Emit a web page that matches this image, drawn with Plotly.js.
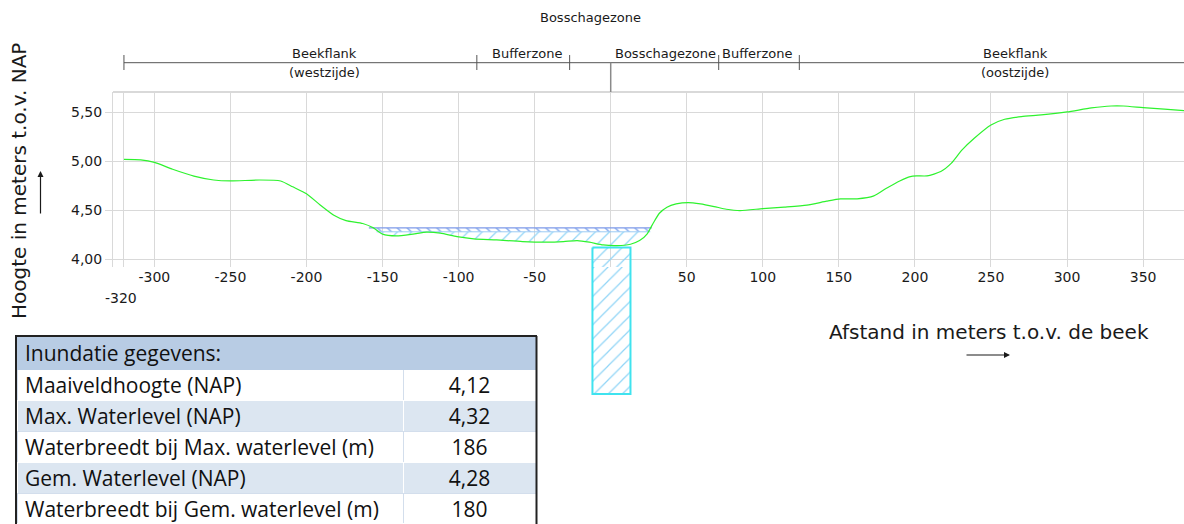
<!DOCTYPE html>
<html>
<head>
<meta charset="utf-8">
<script src="https://cdn.plot.ly/plotly-3.0.1.min.js"></script>
<style>
  html, body { margin: 0; padding: 0; background: #ffffff; }
  #chart { width: 1184px; height: 524px; }
</style>
</head>
<body>
<div id="chart"></div>
<script>
// Dwarsprofiel van het beekdal: maaiveldhoogte (m NAP) tegen afstand tot de beek (m)
const groundX = [-320, -309, -300, -288, -274, -261, -250, -231, -217, -209, -200, -191, -182, -174, -163, -156,
  -150, -141, -130, -121, -112, -101, -90, -75, -58, -42, -31, -22, -14, -5, 4, 13, 19, 24, 28, 32, 37, 43, 51,
  59, 68, 76, 85, 100, 114, 129, 142, 151, 162, 173, 181, 190, 197, 201, 208, 217, 224, 231, 239, 250, 259, 270,
  283, 300, 316, 329, 337, 350, 364, 377];
const groundY = [5.02, 5.015, 4.99, 4.92, 4.85, 4.81, 4.80, 4.81, 4.80, 4.74, 4.67, 4.555, 4.45, 4.395, 4.365, 4.32,
  4.256, 4.238, 4.256, 4.276, 4.266, 4.231, 4.208, 4.197, 4.18, 4.174, 4.18, 4.19, 4.174, 4.146, 4.139, 4.153, 4.19,
  4.26, 4.37, 4.47, 4.532, 4.565, 4.579, 4.565, 4.538, 4.511, 4.497, 4.517, 4.532, 4.552, 4.593, 4.617, 4.617,
  4.647, 4.722, 4.80, 4.845, 4.852, 4.852, 4.896, 4.982, 5.118, 5.237, 5.373, 5.431, 5.458, 5.475, 5.506, 5.547,
  5.567, 5.567, 5.55, 5.534, 5.519];

// Waterstanden (m NAP) en de breedte van het waterlichaam (m)
const maaiveld = 4.12;
const maxLevel = 4.32;
const gemLevel = 4.28;
const maxExtent = [-159, 27];   // waterbreedte 186 m
const gemExtent = [-154, 26];   // waterbreedte 180 m

// Peilbuis onder de beek
const pipeX = [-12, 13];
const pipeBottom = 2.62;

// Zonering boven het profiel
const zoneBounds = [-320, -88, -27, 71, 124];
const zoneEnd = 377;
const streamAxis = 0;
const zoneNames = ['Beekflank', 'Bufferzone', 'Bosschagezone', 'Bufferzone', 'Beekflank'];
const zoneLabelX = [-188, -55, 36, 96, 266];
const zoneSubNames = ['(westzijde)', '(oostzijde)'];
const zoneSubX = [-188, 266];
const topZoneName = 'Bosschagezone';
const topZoneX = -13;

// As-indeling
const xTicks = [-320, -300, -250, -200, -150, -100, -50, 0, 50, 100, 150, 200, 250, 300, 350];
const xTickText = ['', '-300', '-250', '-200', '-150', '-100', '-50', '', '50', '100', '150', '200', '250', '300', '350'];
const yTicks = [4.0, 4.5, 5.0, 5.5];
const xRange = [-327.2, 376.9];
const yRange = [3.92, 5.71];

// Tabel met inundatiegegevens
const tableHeader = 'Inundatie gegevens:';
const tableLabels = ['Maaiveldhoogte (NAP)', 'Max. Waterlevel (NAP)', 'Waterbreedt bij Max. waterlevel (m)',
  'Gem. Waterlevel (NAP)', 'Waterbreedt bij Gem. waterlevel (m)'];
const tableValues = ['4,12', '4,32', '186', '4,28', '180'];

const W = 1184, H = 524;
const px = v => v / W;
const py = v => 1 - v / H;

const font = 'DejaVu Sans, sans-serif';
const ink = '#1a1a1a';
const grid = '#d9d9d9';

// plot area in pixels
const plotLeft = 113, plotTop = 92, plotBottom = 267, pipeAreaBottom = 400;
const yDomain = [py(plotBottom), py(plotTop)];
const y2Domain = [py(pipeAreaBottom), py(plotBottom)];
const unitsPerPx = (yRange[1] - yRange[0]) / (plotBottom - plotTop);
const y2Range = [yRange[0] - (pipeAreaBottom - plotBottom) * unitsPerPx, yRange[0]];

const inRange = (x, r) => x >= r[0] && x <= r[1];
const gemGroundX = groundX.filter(x => inRange(x, gemExtent));
const gemGroundY = groundY.filter((_, i) => inRange(groundX[i], gemExtent));

const pipePolyX = [pipeX[0], pipeX[1], pipeX[1], pipeX[0], pipeX[0]];
const pipePolyY = [maaiveld, maaiveld, pipeBottom, pipeBottom, maaiveld];

const hatch = { shape: '/', fgcolor: '#8fd4f6', bgcolor: 'rgba(0,0,0,0)', size: 10, solidity: 0.12 };
const pipeLine = { color: '#3fe3ef', width: 2 };

const traces = [
  // water below the mean level
  { x: gemExtent, y: [gemLevel, gemLevel], mode: 'lines', line: { width: 0 }, hoverinfo: 'skip' },
  { x: gemGroundX, y: gemGroundY, mode: 'lines', line: { width: 0, shape: 'spline' }, fill: 'tonexty',
    fillcolor: 'rgba(0,0,0,0)', fillpattern: hatch, hoverinfo: 'skip' },
  // peilbuis
  { x: pipePolyX, y: pipePolyY, mode: 'lines', line: pipeLine, fill: 'toself', fillcolor: 'rgba(0,0,0,0)',
    fillpattern: hatch, hoverinfo: 'skip' },
  { x: pipePolyX, y: pipePolyY, xaxis: 'x2', yaxis: 'y2', mode: 'lines', line: pipeLine, fill: 'toself',
    fillcolor: 'rgba(0,0,0,0)', fillpattern: hatch, hoverinfo: 'skip' },
  // band between mean and maximum water level
  { x: gemExtent, y: [gemLevel, gemLevel], mode: 'lines', line: { color: '#9ccbf4', width: 1 }, hoverinfo: 'skip' },
  { x: maxExtent, y: [maxLevel, maxLevel], mode: 'lines', line: { color: '#7e9ae8', width: 1.2 }, fill: 'tonexty',
    fillcolor: 'rgba(0,0,0,0)',
    fillpattern: { shape: '\\', fgcolor: '#7fa6ee', bgcolor: 'rgba(0,0,0,0)', size: 7, solidity: 0.2 },
    hoverinfo: 'skip' },
  // maaiveld
  { x: groundX, y: groundY, mode: 'lines', line: { color: '#2ef22e', width: 1.2, shape: 'spline', smoothing: 0.6 },
    hoverinfo: 'skip' },
  // tabel
  {
    type: 'table',
    domain: { x: [px(17), px(536)], y: [0, py(337)] },
    columnwidth: [386, 133],
    header: {
      values: [tableHeader, ''],
      align: ['left', 'center'],
      height: 32,
      fill: { color: '#b8cce4' },
      line: { color: '#b8cce4', width: 1 },
      font: { family: 'Open Sans, sans-serif', size: 21, color: '#111' }
    },
    cells: {
      values: [tableLabels, tableValues],
      align: ['left', 'center'],
      height: 31,
      fill: { color: [tableLabels.map((_, i) => i % 2 ? '#dce6f1' : '#ffffff'),
                      tableLabels.map((_, i) => i % 2 ? '#dce6f1' : '#ffffff')] },
      line: { color: [tableLabels.map((_, i) => i % 2 ? '#ffffff' : '#d3deec'),
                      tableLabels.map((_, i) => i % 2 ? '#ffffff' : '#d3deec')], width: 1 },
      font: { family: 'Open Sans, sans-serif', size: 21, color: '#111' }
    }
  }
];

const shapes = [];
// plot top border
shapes.push({ type: 'line', xref: 'paper', yref: 'paper', x0: px(plotLeft), x1: 1, y0: yDomain[1], y1: yDomain[1],
  line: { color: grid, width: 2 } });
// zone bar with boundary ticks
const barY = py(62.7);
shapes.push({ type: 'line', xref: 'x', yref: 'paper', x0: zoneBounds[0], x1: zoneEnd, y0: barY, y1: barY,
  line: { color: '#555', width: 1 } });
zoneBounds.forEach(b => shapes.push({ type: 'line', xref: 'x', yref: 'paper', x0: b, x1: b,
  y0: py(55), y1: py(70), line: { color: '#555', width: 1 } }));
shapes.push({ type: 'line', xref: 'x', yref: 'paper', x0: streamAxis, x1: streamAxis, y0: barY, y1: yDomain[1],
  line: { color: '#8a8a8a', width: 1.5 } });
// table frame
shapes.push({ type: 'line', xref: 'paper', yref: 'paper', x0: px(16), x1: px(16), y0: py(336), y1: 0,
  line: { color: '#222', width: 2 } });
shapes.push({ type: 'line', xref: 'paper', yref: 'paper', x0: px(15), x1: px(537), y0: py(336), y1: py(336),
  line: { color: '#222', width: 2 } });
shapes.push({ type: 'line', xref: 'paper', yref: 'paper', x0: px(536.5), x1: px(536.5), y0: py(336), y1: 0,
  line: { color: '#222', width: 2 } });

const annotations = [];
const labelFont = { family: font, size: 13, color: ink };
zoneNames.forEach((n, i) => annotations.push({ text: n, xref: 'x', yref: 'paper', x: zoneLabelX[i], y: py(53),
  showarrow: false, font: labelFont, xanchor: 'center', yanchor: 'middle' }));
zoneSubNames.forEach((n, i) => annotations.push({ text: n, xref: 'x', yref: 'paper', x: zoneSubX[i], y: py(72),
  showarrow: false, font: labelFont, xanchor: 'center', yanchor: 'middle' }));
annotations.push({ text: topZoneName, xref: 'x', yref: 'paper', x: topZoneX, y: py(17), showarrow: false,
  font: labelFont, xanchor: 'center', yanchor: 'middle' });
annotations.push({ text: String(xTicks[0]), xref: 'x', yref: 'paper', x: -322, y: py(298), showarrow: false,
  font: { family: font, size: 14, color: ink }, xanchor: 'center', yanchor: 'middle' });
// axis titles with direction arrows
annotations.push({ text: 'Hoogte in meters t.o.v. NAP', xref: 'paper', yref: 'paper', x: px(19), y: py(181),
  textangle: -90, showarrow: false, font: { family: font, size: 20, color: ink }, xanchor: 'center', yanchor: 'middle' });
annotations.push({ text: '', xref: 'paper', yref: 'paper', x: px(40.5), y: py(171), ax: 0, ay: 44,
  showarrow: true, arrowhead: 2, arrowsize: 1, arrowwidth: 1.2, arrowcolor: ink });
annotations.push({ text: 'Afstand in meters t.o.v. de beek', xref: 'paper', yref: 'paper', x: px(989), y: py(332),
  showarrow: false, font: { family: font, size: 20, color: ink }, xanchor: 'center', yanchor: 'middle' });
annotations.push({ text: '', xref: 'paper', yref: 'paper', x: px(1010), y: py(355), ax: -45, ay: 0,
  showarrow: true, arrowhead: 2, arrowsize: 1, arrowwidth: 1.2, arrowcolor: ink });

const layout = {
  width: W, height: H,
  margin: { l: 0, r: 0, t: 0, b: 0 },
  paper_bgcolor: '#ffffff', plot_bgcolor: '#ffffff',
  showlegend: false,
  separators: ',.',
  xaxis: {
    domain: [px(plotLeft), 1], range: xRange, anchor: 'y',
    tickvals: xTicks, ticktext: xTickText,
    showgrid: true, gridcolor: grid, gridwidth: 1, zeroline: false, showline: false, ticks: '',
    tickfont: { family: font, size: 14, color: ink }
  },
  yaxis: {
    domain: yDomain, range: yRange, anchor: 'x',
    tickvals: yTicks, tickformat: '.2f',
    showgrid: true, gridcolor: grid, gridwidth: 1, zeroline: false,
    showline: true, linecolor: grid, linewidth: 1,
    ticks: 'outside', ticklen: 7, tickcolor: grid,
    tickfont: { family: font, size: 14, color: ink }
  },
  xaxis2: { domain: [px(plotLeft), 1], range: xRange, anchor: 'y2', visible: false, showgrid: false, zeroline: false },
  yaxis2: { domain: y2Domain, range: y2Range, anchor: 'x2', visible: false, showgrid: false, zeroline: false },
  shapes: shapes,
  annotations: annotations
};

Plotly.newPlot('chart', traces, layout, { staticPlot: true, displayModeBar: false });
</script>
</body>
</html>
